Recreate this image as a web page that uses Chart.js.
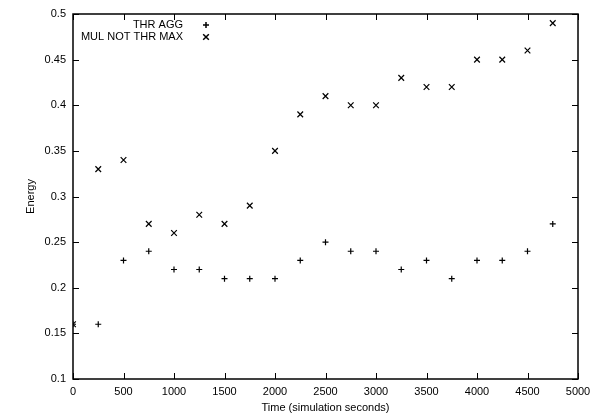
<!DOCTYPE html>
<html>
<head>
<meta charset="utf-8">
<script src="https://cdn.jsdelivr.net/npm/chart.js@4/dist/chart.umd.min.js"></script>
<style>
  html, body { margin: 0; padding: 0; background: #fff; }
  #wrap { width: 600px; height: 415px; }
</style>
</head>
<body>
<div id="wrap"><canvas id="chart-energy"></canvas></div>
<script>
const times = [0, 250, 500, 750, 1000, 1250, 1500, 1750, 2000, 2250, 2500, 2750, 3000, 3250, 3500, 3750, 4000, 4250, 4500, 4750]
const thrAgg = [0.16, 0.16, 0.23, 0.24, 0.22, 0.22, 0.21, 0.21, 0.21, 0.23, 0.25, 0.24, 0.24, 0.22, 0.23, 0.21, 0.23, 0.23, 0.24, 0.27]
const mulNotThrMax = [0.16, 0.33, 0.34, 0.27, 0.26, 0.28, 0.27, 0.29, 0.35, 0.39, 0.41, 0.40, 0.40, 0.43, 0.42, 0.42, 0.45, 0.45, 0.46, 0.49]
const seriesLabels = ['THR AGG', 'MUL NOT THR MAX']

const font = { family: "'Liberation Sans', Arial, sans-serif", size: 11 }

const toPoints = (ys) => times.map((t, i) => ({ x: t, y: ys[i] }))

// gnuplot style: ticks pointing inward on all four sides, plus a box
const frameTicks = {
    id: 'frameTicks',
    afterDraw(chart) {
        const { ctx, chartArea: a, scales } = chart
        const len = 6
        ctx.save()
        ctx.strokeStyle = '#000'
        ctx.lineWidth = 1
        ctx.beginPath()
        scales.x.ticks.forEach(t => {
            const px = Math.round(scales.x.getPixelForValue(t.value)) + 0.5
            ctx.moveTo(px, a.bottom); ctx.lineTo(px, a.bottom - len)
            ctx.moveTo(px, a.top); ctx.lineTo(px, a.top + len)
        })
        scales.y.ticks.forEach(t => {
            const py = Math.round(scales.y.getPixelForValue(t.value)) + 0.5
            ctx.moveTo(a.left, py); ctx.lineTo(a.left + len, py)
            ctx.moveTo(a.right, py); ctx.lineTo(a.right - len, py)
        })
        ctx.stroke()
        ctx.lineWidth = 1.5
        ctx.strokeRect(a.left, a.top, a.right - a.left, a.bottom - a.top)

        // key in the top left corner
        ctx.font = `${font.size}px ${font.family}`
        ctx.fillStyle = '#000'
        ctx.textAlign = 'right'
        ctx.textBaseline = 'middle'
        chart.data.datasets.forEach((ds, i) => {
            const y = a.top + 11 + i * 12
            ctx.fillText(ds.label, a.left + 110, y)
            Chart.helpers.drawPoint(ctx, { pointStyle: ds.pointStyle, radius: ds.pointRadius, borderWidth: ds.borderWidth }, a.left + 133, y)
        })
        ctx.restore()
    }
}

const chartEnergy = document.getElementById('chart-energy')

new Chart(chartEnergy.getContext('2d'), {
    type: 'scatter',
    data: {
        datasets: [{
            label: seriesLabels[0],
            data: toPoints(thrAgg),
            pointStyle: 'cross',
            pointRadius: 3,
            pointHoverRadius: 3,
            borderWidth: 1.2,
            borderColor: '#000',
            backgroundColor: '#000'
        }, {
            label: seriesLabels[1],
            data: toPoints(mulNotThrMax),
            pointStyle: 'crossRot',
            pointRadius: 4,
            pointHoverRadius: 4,
            borderWidth: 1.2,
            borderColor: '#000',
            backgroundColor: '#000'
        }]
    },
    options: {
        responsive: true,
        maintainAspectRatio: false,
        animation: false,
        layout: { padding: { left: 0, right: 22, top: 14, bottom: 0 } },
        plugins: {
            legend: { display: false },
            tooltip: { enabled: false }
        },
        scales: {
            x: {
                type: 'linear',
                min: 0,
                max: 5000,
                grid: { display: false, drawTicks: false },
                border: { display: false },
                ticks: { stepSize: 500, color: '#000', font: font, padding: 6, maxRotation: 0, callback: (v) => String(v) },
                title: { display: true, text: 'Time (simulation seconds)', color: '#000', font: font, padding: { top: 2, bottom: 0 } },
                afterFit: (scale) => { scale.height = 36 }
            },
            y: {
                min: 0.1,
                max: 0.5,
                grid: { display: false, drawTicks: false },
                border: { display: false },
                ticks: {
                    stepSize: 0.05,
                    color: '#000',
                    font: font,
                    padding: 7,
                    callback: (v) => String(+v.toFixed(2))
                },
                title: { display: true, text: 'Energy', color: '#000', font: font, padding: { top: 24, bottom: 0 } },
                afterFit: (scale) => { scale.width = 73 }
            }
        }
    },
    plugins: [frameTicks]
})
</script>
</body>
</html>
